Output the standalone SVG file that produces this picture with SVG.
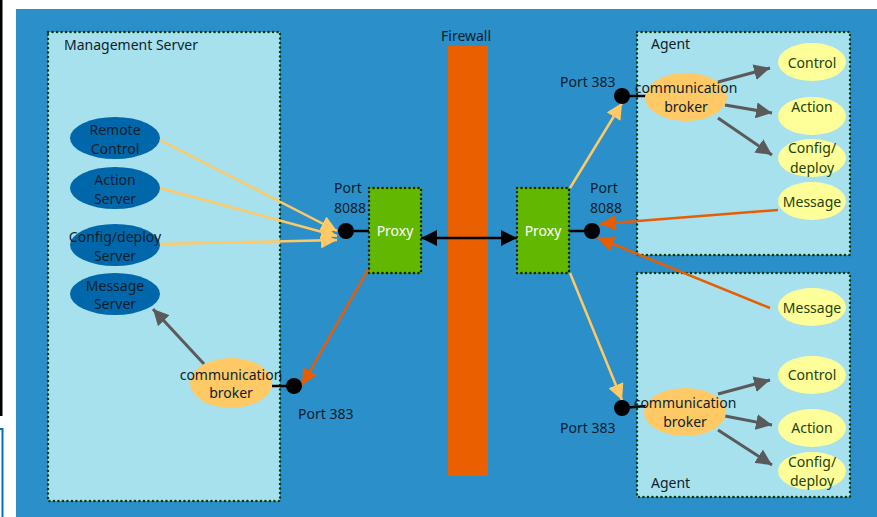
<svg xmlns="http://www.w3.org/2000/svg" width="877" height="517" viewBox="0 0 877 517">
<style>
text{font-family:"Noto Sans","DejaVu Sans",sans-serif;font-size:14px;fill:#0d1e2e}
.c{text-anchor:middle}
.box{fill:#a6e1ed;stroke:#003b10;stroke-width:2.5;stroke-dasharray:0.1 4.4;stroke-linecap:round}
.proxy{fill:#62b800;stroke:#0d2a05;stroke-width:2.5;stroke-dasharray:0.1 4.4;stroke-linecap:round}
.ms{fill:#0068aa}
.br{fill:#ffc966}
.ag{fill:#ffff99}
.agt{fill:#23410f}
.y{stroke:#ffc966;stroke-width:2.5;fill:none}
.o{stroke:#e85d04;stroke-width:2.5;fill:none}
.g{stroke:#5a5a5a;stroke-width:3;fill:none}
.k{stroke:#000;stroke-width:2.5;fill:none}
.dot{fill:#000}
</style>
<defs>
<marker id="ay" markerUnits="userSpaceOnUse" markerWidth="18" markerHeight="16" refX="16" refY="8" orient="auto"><path d="M0,0 L16,8 L0,16 Z" fill="#ffc966"/></marker>
<marker id="ao" markerUnits="userSpaceOnUse" markerWidth="18" markerHeight="16" refX="16" refY="8" orient="auto"><path d="M0,0 L16,8 L0,16 Z" fill="#e85d04"/></marker>
<marker id="ag" markerUnits="userSpaceOnUse" markerWidth="18" markerHeight="16" refX="16" refY="8" orient="auto"><path d="M0,0 L16,8 L0,16 Z" fill="#5a5a5a"/></marker>
<marker id="ak" markerUnits="userSpaceOnUse" markerWidth="18" markerHeight="16" refX="16" refY="8" orient="auto-start-reverse"><path d="M0,0 L16,8 L0,16 Z" fill="#000"/></marker>
</defs>
<rect width="877" height="517" fill="#fff"/>
<rect x="0" y="0" width="2.5" height="416" fill="#000"/>
<path d="M0,429 H2.5 V517" stroke="#0070c0" stroke-width="2" fill="none"/>
<rect x="16" y="9" width="861" height="508" fill="#2b8fca"/>

<g id="firewall">
<rect x="448" y="46" width="40" height="430" fill="#ea5f00"/>
<text x="441" y="41">Firewall</text>
</g>

<g id="mgmt-server">
<rect class="box" x="48" y="32" width="232" height="469"/>
<text x="64" y="50">Management Server</text>
</g>
<g id="agent-top">
<rect class="box" x="637" y="32" width="213" height="223"/>
<text x="651" y="49">Agent</text>
</g>
<g id="agent-bottom">
<rect class="box" x="637" y="273" width="213" height="224"/>
<text x="651" y="488">Agent</text>
</g>

<g id="connectors">
<line class="y" x1="160" y1="140" x2="337" y2="231" marker-end="url(#ay)"/>
<line class="y" x1="160" y1="188" x2="337" y2="236" marker-end="url(#ay)"/>
<line class="y" x1="160" y1="244" x2="337" y2="240" marker-end="url(#ay)"/>
<line class="g" x1="204" y1="364" x2="153" y2="309" marker-end="url(#ag)"/>
<line class="o" x1="369" y1="268" x2="302" y2="385" marker-end="url(#ao)"/>
<line class="k" x1="421" y1="238" x2="517" y2="238" marker-start="url(#ak)" marker-end="url(#ak)"/>
<line class="k" x1="346" y1="231" x2="369" y2="231"/>
<line class="k" x1="272" y1="386" x2="294" y2="386"/>
<line class="k" x1="569" y1="231" x2="592" y2="231"/>
<line class="k" x1="622" y1="96" x2="646" y2="96"/>
<line class="k" x1="622" y1="408" x2="646" y2="406"/>
<line class="y" x1="570" y1="188" x2="622" y2="103" marker-end="url(#ay)"/>
<line class="y" x1="570" y1="273" x2="622" y2="400" marker-end="url(#ay)"/>
<line class="o" x1="778" y1="210" x2="600" y2="224" marker-end="url(#ao)"/>
<line class="o" x1="770" y1="308" x2="598" y2="238" marker-end="url(#ao)"/>
<line class="g" x1="718" y1="82" x2="770" y2="68" marker-end="url(#ag)"/>
<line class="g" x1="725" y1="105" x2="772" y2="113" marker-end="url(#ag)"/>
<line class="g" x1="718" y1="118" x2="772" y2="155" marker-end="url(#ag)"/>
<line class="g" x1="718" y1="394" x2="770" y2="380" marker-end="url(#ag)"/>
<line class="g" x1="725" y1="416" x2="772" y2="425" marker-end="url(#ag)"/>
<line class="g" x1="718" y1="430" x2="772" y2="465" marker-end="url(#ag)"/>
</g>

<g id="proxy-left">
<rect class="proxy" x="369" y="188" width="52" height="85"/>
<text class="c" x="395" y="236" style="fill:#fff">Proxy</text>
</g>
<g id="proxy-right">
<rect class="proxy" x="517" y="188" width="52" height="85"/>
<text class="c" x="543" y="236" style="fill:#fff">Proxy</text>
</g>

<g id="port-8088-left">
<circle class="dot" cx="346" cy="231" r="8"/>
<text x="334" y="193">Port</text>
<text x="334" y="213">8088</text>
</g>
<g id="port-383-left">
<circle class="dot" cx="294" cy="386" r="8"/>
<text x="298" y="419">Port 383</text>
</g>
<g id="port-383-top">
<circle class="dot" cx="622" cy="96" r="8"/>
<text x="560" y="87">Port 383</text>
</g>
<g id="port-8088-right">
<circle class="dot" cx="592" cy="231" r="8"/>
<text x="590" y="193">Port</text>
<text x="590" y="213">8088</text>
</g>
<g id="port-383-bottom">
<circle class="dot" cx="622" cy="408" r="8"/>
<text x="560" y="433">Port 383</text>
</g>

<g id="remote-control">
<ellipse class="ms" cx="115" cy="138" rx="45" ry="21"/>
<text class="c" x="115" y="135">Remote</text>
<text class="c" x="115" y="154">Control</text>
</g>
<g id="action-server">
<ellipse class="ms" cx="115" cy="188" rx="45" ry="21"/>
<text class="c" x="115" y="185">Action</text>
<text class="c" x="115" y="204">Server</text>
</g>
<g id="config-deploy-server">
<ellipse class="ms" cx="115" cy="245" rx="45" ry="21"/>
<text class="c" x="115" y="242">Config/deploy</text>
<text class="c" x="115" y="261">Server</text>
</g>
<g id="message-server">
<ellipse class="ms" cx="115" cy="294" rx="45" ry="21"/>
<text class="c" x="115" y="291">Message</text>
<text class="c" x="115" y="309">Server</text>
</g>
<g id="broker-mgmt">
<ellipse class="br" cx="231" cy="383" rx="41" ry="25"/>
<text class="c" x="231" y="380">communication</text>
<text class="c" x="231" y="398">broker</text>
</g>

<g id="broker-top">
<ellipse class="br" cx="686" cy="97" rx="41" ry="24"/>
<text class="c" x="686" y="93">communication</text>
<text class="c" x="686" y="112">broker</text>
</g>
<g id="control-top">
<ellipse class="ag" cx="812" cy="62" rx="34" ry="19"/>
<text class="c agt" x="812" y="68">Control</text>
</g>
<g id="action-top">
<ellipse class="ag" cx="812" cy="116" rx="34" ry="19"/>
<text class="c agt" x="812" y="112">Action</text>
</g>
<g id="config-top">
<ellipse class="ag" cx="812" cy="158" rx="34" ry="19"/>
<text class="c agt" x="812" y="153">Config/</text>
<text class="c agt" x="812" y="173">deploy</text>
</g>
<g id="message-top">
<ellipse class="ag" cx="812" cy="201" rx="34" ry="19"/>
<text class="c agt" x="812" y="207">Message</text>
</g>

<g id="message-bottom">
<ellipse class="ag" cx="812" cy="307" rx="34" ry="19"/>
<text class="c agt" x="812" y="313">Message</text>
</g>
<g id="broker-bottom">
<ellipse class="br" cx="685" cy="412" rx="41" ry="24"/>
<text class="c" x="685" y="408">communication</text>
<text class="c" x="685" y="427">broker</text>
</g>
<g id="control-bottom">
<ellipse class="ag" cx="812" cy="375" rx="34" ry="19"/>
<text class="c agt" x="812" y="380">Control</text>
</g>
<g id="action-bottom">
<ellipse class="ag" cx="812" cy="428" rx="34" ry="19"/>
<text class="c agt" x="812" y="433">Action</text>
</g>
<g id="config-bottom">
<ellipse class="ag" cx="812" cy="471" rx="34" ry="19"/>
<text class="c agt" x="812" y="467">Config/</text>
<text class="c agt" x="812" y="486">deploy</text>
</g>
</svg>
